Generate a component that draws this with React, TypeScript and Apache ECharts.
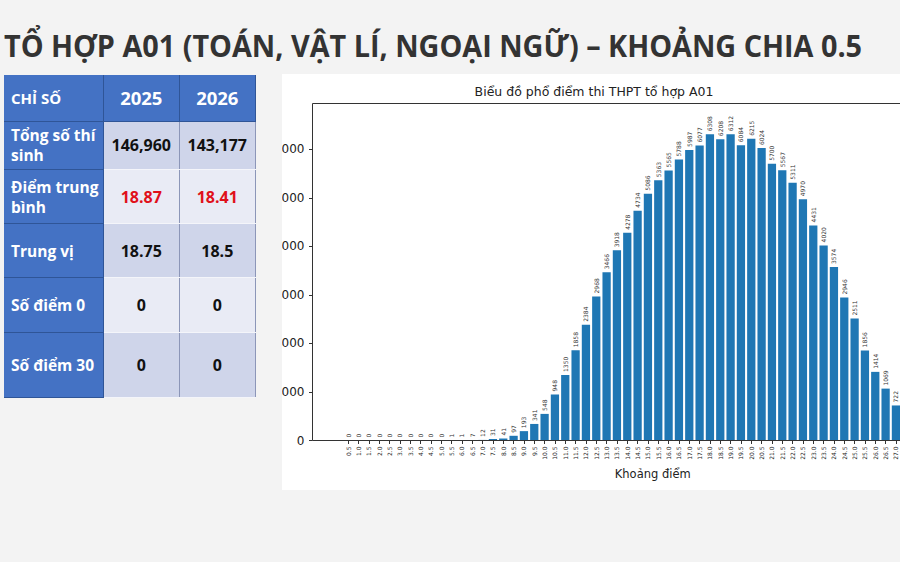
import React, { useEffect, useLayoutEffect, useRef } from "react";
import * as echarts from "echarts";

// Score bins (step 0.5) shown on the horizontal axis
const scoreBins = [
  "0.5", "1.0", "1.5", "2.0", "2.5", "3.0", "3.5", "4.0", "4.5", "5.0",
  "5.5", "6.0", "6.5", "7.0", "7.5", "8.0", "8.5", "9.0", "9.5", "10.0",
  "10.5", "11.0", "11.5", "12.0", "12.5", "13.0", "13.5", "14.0", "14.5", "15.0",
  "15.5", "16.0", "16.5", "17.0", "17.5", "18.0", "18.5", "19.0", "19.5", "20.0",
  "20.5", "21.0", "21.5", "22.0", "22.5", "23.0", "23.5", "24.0", "24.5", "25.0",
  "25.5", "26.0", "26.5", "27.0",
];

// Number of candidates in each bin
const candidateCounts = [
  0, 0, 0, 0, 0, 0, 0, 0, 0, 0,
  1, 1, 7, 12, 31, 41, 97, 193, 341, 548,
  948, 1350, 1858, 2384, 2968, 3466, 3918, 4278, 4734, 5086,
  5363, 5565, 5788, 5987, 6077, 6308, 6208, 6312, 6084, 6215,
  6024, 5700, 5567, 5311, 4970, 4431, 4020, 3574, 2946, 2511,
  1856, 1414, 1069, 722,
];

const yTicks = [0, 1000, 2000, 3000, 4000, 5000, 6000];

// Summary table
const metricLabels = ["Tổng số thí sinh", "Điểm trung bình", "Trung vị", "Số điểm 0", "Số điểm 30"];
const tableYears = ["2025", "2026"];
const values2025 = ["146,960", "18.87", "18.75", "0", "0"];
const values2026 = ["143,177", "18.41", "18.5", "0", "0"];
const highlightedRow = 1;

const pageTitle = "TỔ HỢP A01 (TOÁN, VẬT LÍ, NGOẠI NGỮ) – KHOẢNG CHIA 0.5";
const chartTitle = "Biểu đồ phổ điểm thi THPT tổ hợp A01";
const xAxisTitle = "Khoảng điểm";

const BLUE = "#4472c4";
const ROW_DARK = "#cfd5ea";
const ROW_LIGHT = "#e9ebf5";
const rowHeights = [47.6, 54.7, 53.3, 55, 65.7];
const mpl = "DejaVu Sans";

function Chart() {
  const ref = useRef<HTMLDivElement>(null);
  useEffect(() => {
    if (!ref.current) return;
    const chart = echarts.init(ref.current, null, { renderer: "svg" });
    const yMax = Math.max(...candidateCounts) * 1.1;
    chart.setOption({
      animation: false,
      textStyle: { fontFamily: mpl },
      graphic: [
        {
          type: "text",
          x: 352,
          y: 17,
          style: {
            text: chartTitle,
            fontSize: 12.5,
            fontFamily: mpl,
            fill: "#222",
            align: "center",
            verticalAlign: "middle",
            textAlign: "center",
            textVerticalAlign: "middle",
          },
        },
      ],
      grid: [
        { left: 101.1, right: 100.9, top: 29.5, bottom: 49.5 },
        {
          left: 70.5,
          right: 9,
          top: 29.5,
          bottom: 49.5,
          show: true,
          borderColor: "#333",
          borderWidth: 1,
          backgroundColor: "transparent",
          z: 3,
        },
      ],
      xAxis: [
        {
          type: "category",
          gridIndex: 0,
          data: scoreBins,
          boundaryGap: true,
          axisLine: { show: false },
          axisTick: { show: true, alignWithLabel: true, length: 3.5, lineStyle: { color: "#333" } },
          axisLabel: { rotate: 90, fontSize: 6, color: "#222", margin: 6, interval: 0, fontFamily: mpl },
          splitLine: { show: false },
        },
        {
          type: "value",
          gridIndex: 1,
          min: 0,
          max: 1,
          axisLine: { show: false },
          axisTick: { show: false },
          axisLabel: { show: false },
          splitLine: { show: false },
          name: xAxisTitle,
          nameLocation: "middle",
          nameGap: 27,
          nameTextStyle: { fontSize: 11.5, color: "#222", fontFamily: mpl },
        },
      ],
      yAxis: [
        {
          type: "value",
          gridIndex: 0,
          min: 0,
          max: yMax,
          interval: 1000,
          offset: 30.6,
          axisLine: { show: false },
          axisTick: { show: true, length: 3.5, lineStyle: { color: "#333" }, customValues: yTicks },
          axisLabel: { fontSize: 12, color: "#222", margin: 8, fontFamily: mpl, customValues: yTicks },
          splitLine: { show: false },
        },
        { type: "value", gridIndex: 1, show: false },
      ],
      series: [
        {
          type: "bar",
          xAxisIndex: 0,
          yAxisIndex: 0,
          data: candidateCounts,
          barWidth: "80%",
          itemStyle: { color: "#1f77b4" },
          label: {
            show: true,
            position: "top",
            rotate: 90,
            align: "left",
            verticalAlign: "middle",
            distance: 3,
            fontSize: 6,
            color: "#333",
            fontFamily: mpl,
          },
        },
      ],
    });
    return () => chart.dispose();
  }, []);
  return (
    <div
      ref={ref}
      style={{ position: "absolute", left: -40, top: 0, width: 760, height: 416 }}
    />
  );
}

export default function App() {
  const titleRef = useRef<HTMLSpanElement>(null);
  useLayoutEffect(() => {
    const el = titleRef.current;
    if (!el) return;
    const w = el.scrollWidth;
    if (w > 0) el.style.transform = `scaleX(${858 / w})`;
  }, []);

  const cellBase: React.CSSProperties = {
    padding: 0,
    fontFamily: "'Open Sans', sans-serif",
    fontWeight: 700,
    boxSizing: "border-box",
  };

  return (
    <div
      style={{
        position: "fixed",
        left: 0,
        top: 0,
        width: 900,
        height: 562,
        overflow: "hidden",
        background: "#f3f3f3",
      }}
    >
      <span
        ref={titleRef}
        style={{
          position: "absolute",
          left: 4,
          top: 30,
          display: "inline-block",
          whiteSpace: "nowrap",
          fontFamily: "'Open Sans', sans-serif",
          fontWeight: 700,
          fontSize: 30.5,
          lineHeight: 1,
          color: "#333",
          transformOrigin: "0 50%",
        }}
      >
        {pageTitle}
      </span>

      <table
        style={{
          position: "absolute",
          left: 4,
          top: 74.7,
          width: 251.3,
          borderCollapse: "collapse",
          tableLayout: "fixed",
        }}
      >
        <colgroup>
          <col style={{ width: 99.3 }} />
          <col style={{ width: 76 }} />
          <col style={{ width: 76 }} />
        </colgroup>
        <tbody>
          <tr style={{ height: 47 }}>
            <td
              style={{
                ...cellBase,
                background: BLUE,
                color: "#fff",
                fontSize: 15,
                paddingLeft: 7,
                borderRight: "1px solid #2f5597",
                borderBottom: "1px solid #2f5597",
              }}
            >
              CHỈ SỐ
            </td>
            {tableYears.map((y) => (
              <td
                key={y}
                style={{
                  ...cellBase,
                  background: BLUE,
                  color: "#fff",
                  fontSize: 18.5,
                  textAlign: "center",
                  borderRight: "1px solid #2f5597",
                  borderBottom: "1px solid #2f5597",
                }}
              >
                {y}
              </td>
            ))}
          </tr>
          {metricLabels.map((label, i) => {
            const bg = i % 2 === 0 ? ROW_DARK : ROW_LIGHT;
            const color = i === highlightedRow ? "#e0101a" : "#111";
            return (
              <tr key={label} style={{ height: rowHeights[i] }}>
                <td
                  style={{
                    ...cellBase,
                    background: BLUE,
                    color: "#fff",
                    fontSize: 15.5,
                    lineHeight: "20px",
                    paddingLeft: 7,
                    paddingRight: 4,
                    borderRight: "1px solid #2f5597",
                    borderBottom: "1px solid #2f5597",
                  }}
                >
                  {label}
                </td>
                {[values2025[i], values2026[i]].map((v, j) => (
                  <td
                    key={j}
                    style={{
                      ...cellBase,
                      background: bg,
                      color,
                      fontSize: 16,
                      textAlign: "center",
                      borderRight: "1px solid #8c96b8",
                      borderBottom: "1px solid #f4f5fa",
                    }}
                  >
                    {v}
                  </td>
                ))}
              </tr>
            );
          })}
        </tbody>
      </table>

      <div
        style={{
          position: "absolute",
          left: 282,
          top: 74,
          width: 618,
          height: 416,
          background: "#fff",
          overflow: "hidden",
        }}
      >
        <Chart />
      </div>
    </div>
  );
}
